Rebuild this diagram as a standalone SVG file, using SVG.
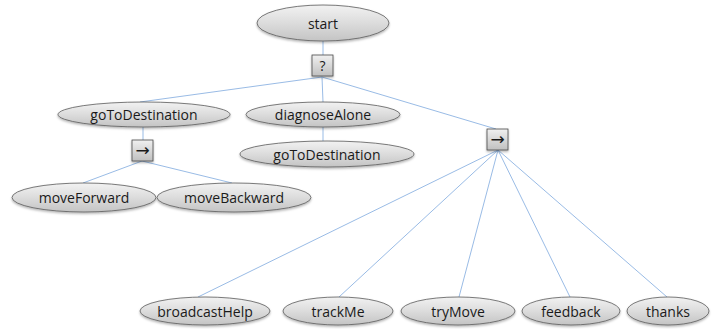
<svg xmlns="http://www.w3.org/2000/svg" width="722" height="329" viewBox="0 0 722 329">
<defs>
<linearGradient id="eg" x1="0" y1="0" x2="0" y2="1">
<stop offset="0" stop-color="#f2f2f2"/>
<stop offset="0.5" stop-color="#dcdcdc"/>
<stop offset="1" stop-color="#c4c4c4"/>
</linearGradient>
<linearGradient id="bg" x1="0" y1="0" x2="0" y2="1">
<stop offset="0" stop-color="#f0f0f0"/>
<stop offset="1" stop-color="#c0c0c0"/>
</linearGradient>
<filter id="sh" x="-10%" y="-20%" width="120%" height="160%">
<feDropShadow dx="0" dy="1.5" stdDeviation="1" flood-color="#000" flood-opacity="0.3"/>
</filter>
</defs>
<style>
.n ellipse{fill:url(#eg);stroke:#5a5a5a;stroke-width:0.8;filter:url(#sh)}
.b rect{fill:url(#bg);stroke:#4a4a4a;stroke-width:0.8;filter:url(#sh)}
text{font-family:"Open Sans","Liberation Sans",sans-serif;font-size:14px;fill:#1a1a1a;text-anchor:middle;dominant-baseline:central}
.b text{font-family:"DejaVu Sans",sans-serif;font-size:17px}
.c line{stroke:#8db3e2;stroke-width:0.9}
</style>
<g class="c" id="connectors">
<line x1="323" y1="41" x2="323" y2="55"/>
<line x1="322" y1="77" x2="140" y2="102"/>
<line x1="322" y1="77" x2="323" y2="102"/>
<line x1="322" y1="77" x2="496" y2="129"/>
<line x1="143" y1="127" x2="143" y2="140"/>
<line x1="142" y1="161" x2="83" y2="183"/>
<line x1="142" y1="161" x2="232" y2="183"/>
<line x1="323" y1="126" x2="323" y2="141"/>
<line x1="498" y1="150" x2="198" y2="297"/>
<line x1="498" y1="150" x2="339" y2="297"/>
<line x1="498" y1="150" x2="459" y2="297"/>
<line x1="498" y1="150" x2="570" y2="297"/>
<line x1="498" y1="150" x2="667" y2="297"/>
</g>
<g class="n" id="start"><ellipse cx="323" cy="23" rx="66" ry="18"/><text x="323" y="23">start</text></g>
<g class="b" id="sel"><rect x="312" y="55" width="21" height="21"/><text x="322.5" y="65.5" style="font-size:14px;font-family:'Open Sans',sans-serif">?</text></g>
<g class="n" id="goToDestination1"><ellipse cx="144" cy="114.5" rx="86" ry="12.5"/><text x="144" y="114">goToDestination</text></g>
<g class="n" id="diagnoseAlone"><ellipse cx="323" cy="114.5" rx="77" ry="12.5"/><text x="323" y="114">diagnoseAlone</text></g>
<g class="n" id="goToDestination2"><ellipse cx="327" cy="154" rx="87" ry="13"/><text x="327" y="154">goToDestination</text></g>
<g class="b" id="seq1"><rect x="132" y="140" width="21" height="21"/><text x="142.5" y="150">→</text></g>
<g class="b" id="seq2"><rect x="487" y="129" width="21" height="21"/><text x="497.5" y="139">→</text></g>
<g class="n" id="moveForward"><ellipse cx="84" cy="197.5" rx="72" ry="14.5"/><text x="84" y="197">moveForward</text></g>
<g class="n" id="moveBackward"><ellipse cx="234" cy="197.5" rx="77" ry="14.5"/><text x="234" y="197">moveBackward</text></g>
<g class="n" id="broadcastHelp"><ellipse cx="205" cy="311" rx="65" ry="14"/><text x="205" y="311">broadcastHelp</text></g>
<g class="n" id="trackMe"><ellipse cx="338" cy="311" rx="55" ry="14"/><text x="338" y="311">trackMe</text></g>
<g class="n" id="tryMove"><ellipse cx="458" cy="311" rx="57" ry="14"/><text x="458" y="311">tryMove</text></g>
<g class="n" id="feedback"><ellipse cx="571" cy="311" rx="49" ry="14"/><text x="571" y="311">feedback</text></g>
<g class="n" id="thanks"><ellipse cx="668" cy="311" rx="41" ry="14"/><text x="668" y="311">thanks</text></g>
</svg>
